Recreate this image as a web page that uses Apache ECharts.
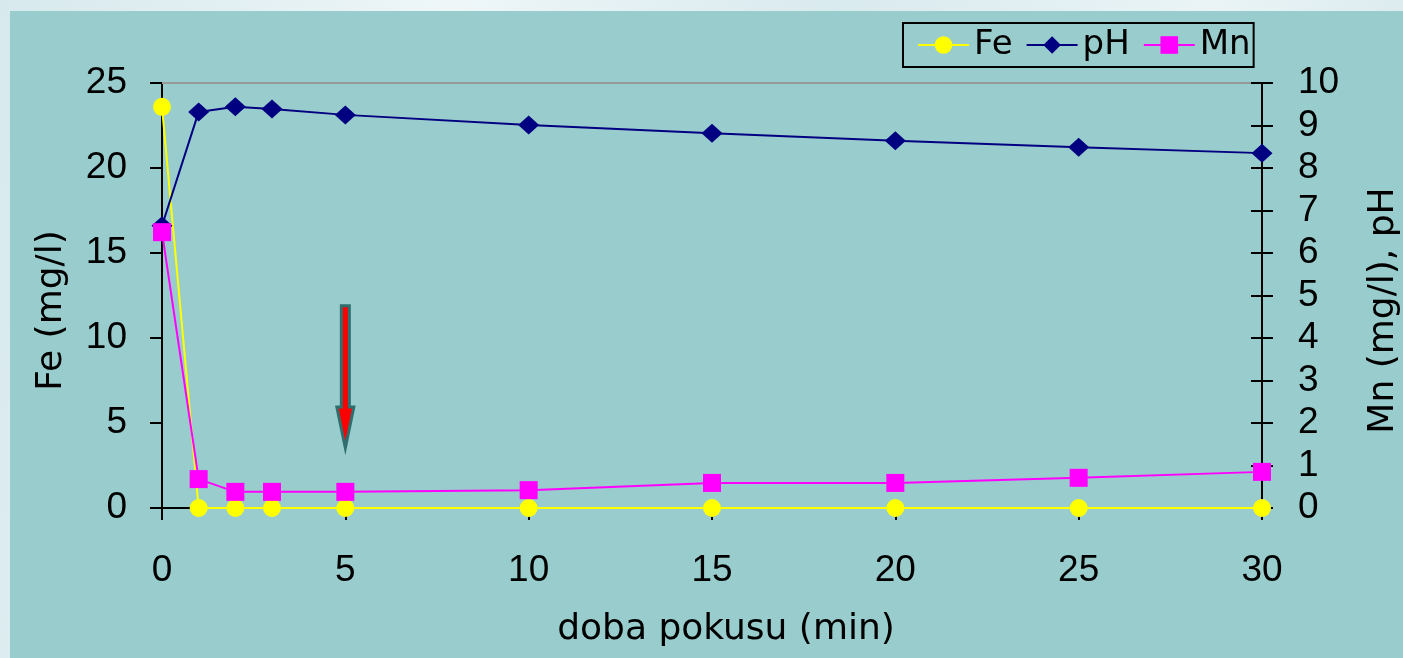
<!DOCTYPE html>
<html>
<head>
<meta charset="utf-8">
<script src="https://cdn.jsdelivr.net/npm/echarts@6/dist/echarts.min.js"></script>
<style>
  html, body { margin: 0; padding: 0; width: 1403px; height: 658px; overflow: hidden;
    background: linear-gradient(100deg, #d7e9ed 0%, #eef6f8 30%, #d9eaee 55%, #eaf4f6 80%, #d5e7eb 100%); }
  #chart { position: absolute; left: 10px; top: 11px; width: 1393px; height: 647px; background: #99CCCC; }
</style>
</head>
<body>
<div id="chart"></div>
<script>
// ---- data ----
const times = [0, 1, 2, 3, 5, 10, 15, 20, 25, 30];
const fe = [23.6, 0, 0, 0, 0, 0, 0, 0, 0, 0];
const ph = [6.64, 9.32, 9.44, 9.39, 9.25, 9.01, 8.82, 8.64, 8.49, 8.35];
const mn = [6.49, 0.68, 0.38, 0.38, 0.38, 0.42, 0.59, 0.59, 0.71, 0.85];
const xTicks = [0, 5, 10, 15, 20, 25, 30];
// arrow annotation: [x, top value, head start value, tip value] on Fe axis
const arrow = [[5, 11.9, 5.94, 3.53]];

const NAMEFONT = 'DejaVu Sans';
const NUMFONT = 'Liberation Sans';
const pairs = (ys) => times.map((t, i) => [t, ys[i]]);

const chart = echarts.init(document.getElementById('chart'));
chart.setOption({
  animation: false,
  textStyle: { fontFamily: NUMFONT, color: '#000' },
  grid: { left: 152, top: 72, right: 141, bottom: 150, containLabel: false, outerBoundsMode: 'none' },
  legend: {
    data: ['Fe', 'pH', 'Mn'],
    left: 893, top: 12,
    orient: 'horizontal',
    borderColor: '#000', borderWidth: 2,
    padding: [5, 3, 5, 14],
    itemGap: 13,
    itemWidth: 51, itemHeight: 22,
    textStyle: { fontFamily: NAMEFONT, fontSize: 34, color: '#000' }
  },
  xAxis: [{
    type: 'value', min: 0, max: 30, interval: 5,
    name: 'doba pokusu (min)', nameLocation: 'middle', nameGap: 104,
    nameTextStyle: { fontSize: 36, fontFamily: NAMEFONT, color: '#000', padding: [0, 0, 0, 28] },
    axisLine: { onZero: false, lineStyle: { color: '#000', width: 2 } },
    axisTick: { show: true, inside: false, length: 12, lineStyle: { color: '#000', width: 2 } },
    axisLabel: { fontSize: 37, margin: 44, color: '#000', fontFamily: NUMFONT,
      formatter: (v) => xTicks.includes(v) ? String(v) : '' },
    splitLine: { show: false }
  }, {
    type: 'value', min: 0, max: 30, position: 'top',
    axisLine: { show: true, onZero: false, lineStyle: { color: '#999', width: 2 } },
    axisTick: { show: false }, axisLabel: { show: false }, splitLine: { show: false }
  }],
  yAxis: [{
    type: 'value', min: 0, max: 25, interval: 5, position: 'left',
    name: 'Fe (mg/l)', nameLocation: 'middle', nameGap: 92, nameRotate: 90,
    nameTextStyle: { fontSize: 36, fontFamily: NAMEFONT, color: '#000', padding: [0, 30, 0, 0] },
    axisLine: { show: true, onZero: false, lineStyle: { color: '#000', width: 2 } },
    axisTick: { show: true, inside: false, length: 12, lineStyle: { color: '#000', width: 2 } },
    axisLabel: { fontSize: 37, margin: 35, color: '#000', fontFamily: NUMFONT },
    splitLine: { show: false }
  }, {
    type: 'value', min: 0, max: 10, interval: 1, position: 'right',
    name: 'Mn (mg/l), pH', nameLocation: 'middle', nameGap: 104, nameRotate: 90,
    nameTextStyle: { fontSize: 36, fontFamily: NAMEFONT, color: '#000', padding: [0, 30, 0, 0] },
    axisLine: { show: true, onZero: false, lineStyle: { color: '#000', width: 2 } },
    axisTick: { show: true, inside: false, length: 11, lineStyle: { color: '#000', width: 2 } },
    axisLabel: { fontSize: 37, margin: 36, color: '#000', fontFamily: NUMFONT },
    splitLine: { show: false }
  }, {
    type: 'value', min: 0, max: 10, interval: 1, position: 'right',
    axisLine: { show: false, onZero: false },
    axisTick: { show: true, inside: true, length: 11, lineStyle: { color: '#000', width: 2 } },
    axisLabel: { show: false }, splitLine: { show: false }
  }],
  series: [{
    name: 'Fe', type: 'line', xAxisIndex: 0, yAxisIndex: 0, data: pairs(fe),
    symbol: 'circle', symbolSize: 18,
    lineStyle: { color: '#FFFF00', width: 2 },
    itemStyle: { color: '#FFFF00' }, z: 3
  }, {
    name: 'pH', type: 'line', xAxisIndex: 0, yAxisIndex: 1, data: pairs(ph),
    symbol: 'diamond', symbolSize: [21, 19],
    lineStyle: { color: '#000080', width: 2 },
    itemStyle: { color: '#000080' }, z: 4
  }, {
    name: 'Mn', type: 'line', xAxisIndex: 0, yAxisIndex: 1, data: pairs(mn),
    symbol: 'rect', symbolSize: 18,
    lineStyle: { color: '#FF00FF', width: 2 },
    itemStyle: { color: '#FF00FF' }, z: 5
  }, {
    name: 'arrow', type: 'custom', xAxisIndex: 0, yAxisIndex: 0, data: arrow,
    silent: true, z: 6,
    renderItem: function (params, api) {
      const top = api.coord([api.value(0), api.value(1)]);
      const head = api.coord([api.value(0), api.value(2)]);
      const tip = api.coord([api.value(0), api.value(3)]);
      const x = top[0], sw = 4, hw = 8.5;
      return {
        type: 'polygon',
        shape: { points: [[x - sw, top[1]], [x + sw, top[1]], [x + sw, head[1]], [x + hw, head[1]],
                          [x, tip[1]], [x - hw, head[1]], [x - sw, head[1]]] },
        style: { fill: '#FF0000', stroke: '#2f6e6e', lineWidth: 3, lineJoin: 'miter' }
      };
    }
  }]
});
</script>
</body>
</html>
